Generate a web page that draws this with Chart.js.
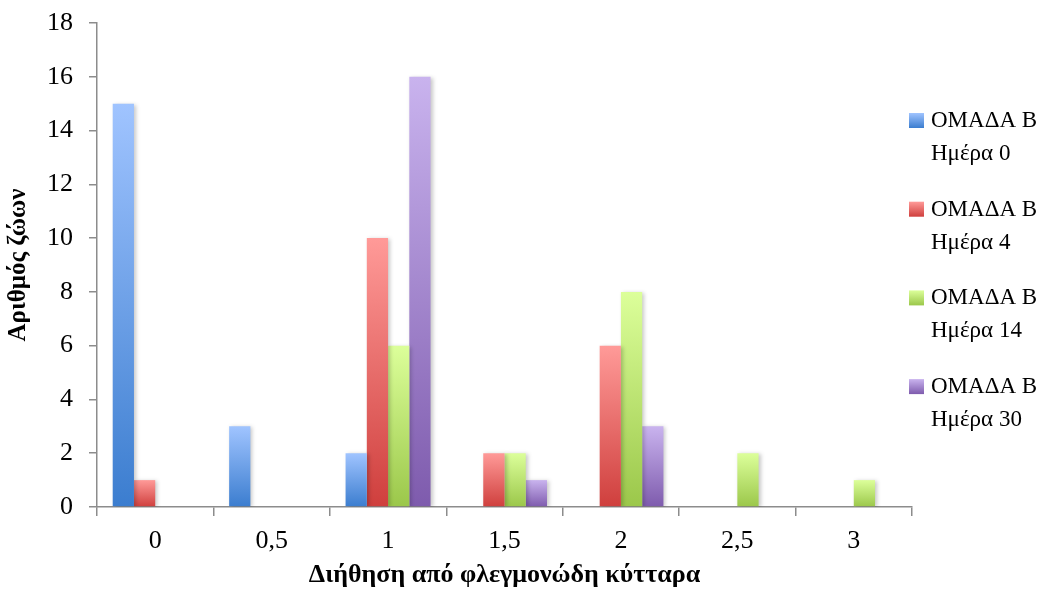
<!DOCTYPE html>
<html>
<head>
<meta charset="utf-8">
<script src="https://cdn.jsdelivr.net/npm/chart.js@4"></script>
<style>
  html, body { margin: 0; padding: 0; background: #fff; }
  #wrap { width: 1042px; height: 593px; }
</style>
</head>
<body>
<div id="wrap"><canvas id="myChart"></canvas></div>
<script>
// categories (x axis tick labels)
var categories = ['0', '0,5', '1', '1,5', '2', '2,5', '3'];

// series values
var day0  = [15, 3, 2, 0, 0, 0, 0];
var day4  = [1, 0, 10, 2, 6, 0, 0];
var day14 = [0, 0, 6, 2, 8, 2, 1];
var day30 = [0, 0, 16, 1, 3, 0, 0];

var seriesNames = [
  ['ΟΜΑΔΑ Β', 'Ημέρα 0'],
  ['ΟΜΑΔΑ Β', 'Ημέρα 4'],
  ['ΟΜΑΔΑ Β', 'Ημέρα 14'],
  ['ΟΜΑΔΑ Β', 'Ημέρα 30']
];

// top / bottom gradient colours per series
var colours = [
  ['#a0c4ff', '#3b7dcf'],
  ['#ff9a98', '#cf3f3d'],
  ['#dcff9a', '#9bc74a'],
  ['#c9b3ee', '#7e5bad']
];

var serif = '"Liberation Serif", "DejaVu Serif", serif';

function barGradient(i) {
  return function (c) {
    var chart = c.chart;
    var y = chart.scales.y;
    if (!y || !chart.chartArea || c.raw === undefined) return colours[i][0];
    var top = y.getPixelForValue(c.raw);
    var bottom = y.getPixelForValue(0);
    if (bottom - top < 1) top = bottom - 1;
    var g = chart.ctx.createLinearGradient(0, top, 0, bottom);
    g.addColorStop(0, colours[i][0]);
    g.addColorStop(1, colours[i][1]);
    return g;
  };
}

// soft shadow behind the bars
var barShadow = {
  id: 'barShadow',
  beforeDatasetsDraw: function (chart) {
    var ctx = chart.ctx;
    ctx.save();
    ctx.shadowColor = 'rgba(0,0,0,0.22)';
    ctx.shadowBlur = 4;
    ctx.shadowOffsetX = 2;
    ctx.shadowOffsetY = 1;
  },
  afterDatasetsDraw: function (chart) {
    chart.ctx.restore();
  }
};

// two-line legend on the right
var sideLegend = {
  id: 'sideLegend',
  afterDraw: function (chart) {
    var ctx = chart.ctx;
    ctx.save();
    ctx.font = '23px ' + serif;
    ctx.textBaseline = 'middle';
    ctx.fillStyle = '#000';
    chart.data.datasets.forEach(function (ds, i) {
      var cy = 120 + i * 88.7;
      var g = ctx.createLinearGradient(0, cy - 7, 0, cy + 8);
      g.addColorStop(0, colours[i][0]);
      g.addColorStop(1, colours[i][1]);
      ctx.fillStyle = g;
      ctx.fillRect(909, cy - 7, 15, 15);
      ctx.fillStyle = '#000';
      ds.label.forEach(function (line, j) {
        ctx.fillText(line, 931, cy + 1 + j * 33);
      });
    });
    ctx.restore();
  }
};

var ctx = document.getElementById('myChart').getContext('2d');
var chart = new Chart(ctx, {
  type: 'bar',
  data: {
    labels: categories,
    datasets: [day0, day4, day14, day30].map(function (d, i) {
      return {
        label: seriesNames[i],
        data: d,
        backgroundColor: barGradient(i),
        borderWidth: 0,
        barPercentage: 1,
        categoryPercentage: 0.73
      };
    })
  },
  options: {
    responsive: true,
    maintainAspectRatio: false,
    animation: false,
    layout: { padding: { top: 23, right: 130, left: 0, bottom: 0 } },
    plugins: {
      legend: { display: false },
      tooltip: { enabled: false }
    },
    scales: {
      x: {
        grid: { drawOnChartArea: false, drawTicks: true, tickLength: 9, color: '#8c8c8c', lineWidth: 1.5 },
        border: { color: '#8c8c8c', width: 1.5 },
        ticks: { color: '#000', font: { family: serif, size: 26 }, padding: 10 },
        title: {
          display: true,
          text: 'Διήθηση από φλεγμονώδη κύτταρα',
          color: '#000',
          font: { family: serif, size: 26, weight: 'bold' },
          padding: { top: 6, bottom: 2 }
        },
        afterFit: function (s) { s.height = 86; s.paddingLeft = 0; s.paddingRight = 0; }
      },
      y: {
        min: 0,
        max: 18,
        grid: { drawOnChartArea: false, drawTicks: true, tickLength: 8, color: '#8c8c8c', lineWidth: 1.5 },
        border: { color: '#8c8c8c', width: 1.5 },
        ticks: { stepSize: 2, color: '#000', font: { family: serif, size: 26 }, padding: 16 },
        title: {
          display: true,
          text: 'Αριθμός ζώων',
          color: '#000',
          font: { family: serif, size: 25, weight: 'bold' },
          padding: { top: 4, bottom: 0 }
        },
        afterFit: function (s) { s.width = 97; s.paddingTop = 0; s.paddingBottom = 0; }
      }
    }
  },
  plugins: [barShadow, sideLegend]
});
</script>
</body>
</html>
